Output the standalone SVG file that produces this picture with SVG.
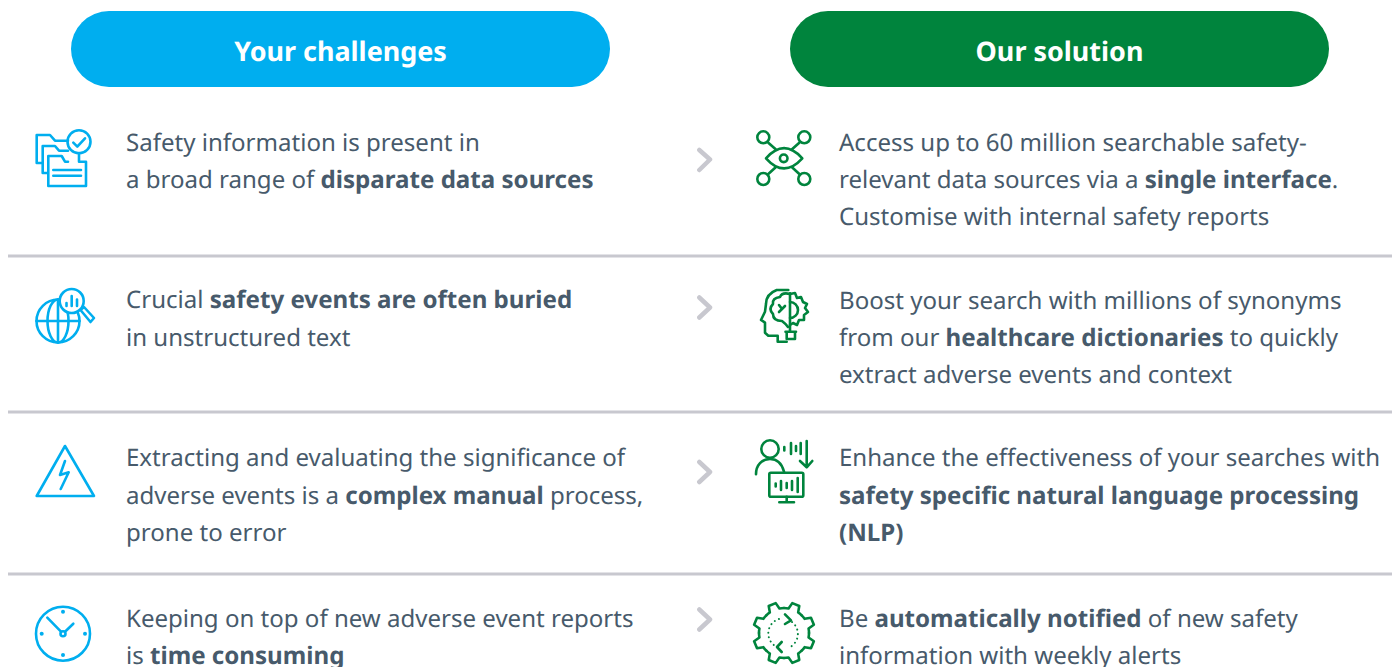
<svg xmlns="http://www.w3.org/2000/svg" xmlns:xlink="http://www.w3.org/1999/xlink" width="1399" height="667" viewBox="0 0 1399 667">
<style>
text{font-family:"Noto Sans","Open Sans",sans-serif;font-size:24.050px;fill:#475a6b;text-rendering:geometricPrecision}
.b{font-weight:700;font-size:24.120px}
.h{font-size:26.950px;font-weight:700;fill:#fff;text-anchor:middle}
.div{stroke:#c8c8cf;stroke-width:3;fill:none}
.chev{stroke:#c8c8cf;stroke-width:4.500;fill:none;stroke-linecap:round;stroke-linejoin:round}
.ib{stroke:#00aeef;stroke-width:2.600;fill:none;stroke-linecap:round;stroke-linejoin:round}
.ig{stroke:#00843d;stroke-width:2.600;fill:none;stroke-linecap:round;stroke-linejoin:round}
</style>
<defs><path id="seg" d="M-9.570,-23.100A25 25 0 0 1 -5.200,-24.450L-3.780,-30.770L3.780,-30.770L5.200,-24.450A25 25 0 0 1 9.570,-23.100"/></defs>
<rect width="1399" height="667" fill="#fff"/>
<g id="header-challenges"><rect x="71" y="11" width="539" height="76" rx="38" fill="#00aeef"/><text class="h" x="340.500" y="61">Your challenges</text></g>
<g id="header-solution"><rect x="790" y="11" width="539" height="76" rx="38" fill="#00843d"/><text class="h" x="1059.500" y="61">Our solution</text></g>
<g id="connectors">
<path class="div" d="M8 256H1392M8 412H1392M8 574H1392"/>
<path class="chev" d="M699.300 150L710 159.500L699.300 170M699.300 297.500L710 307.500L699.300 317.500M699.300 462L710 472L699.300 482M699.300 609.500L710 619.500L699.300 629.500"/>
</g>
<g id="c1"><g class="ib">
<path d="M41.700 163H36.700V135H50L55 140.700H68"/><path d="M47.300 173H42.700V146H55L59 150.700H68"/><path d="M79 153V161.700M68 161.700H65L61.700 156H48.300V186H86V161.700H79"/><path d="M53.300 170H81M53.300 175.700H81"/><circle cx="79" cy="141.700" r="11.500"/><path d="M73.300 142.700L77.300 146.700L85 138.300"/></g>
<text x="126" y="151">Safety information is present in</text><text x="126" y="188">a broad range of <tspan class="b">disparate data sources</tspan></text></g>
<g id="s1"><g class="ig"><circle cx="763.300" cy="137.300" r="6"/><circle cx="804.300" cy="137.300" r="6"/><circle cx="763.300" cy="179" r="6"/><circle cx="804.300" cy="179" r="6"/><path d="M766 158.300Q784 138 802.300 158.300Q784 178.500 766 158.300Z"/><circle cx="783.700" cy="158.300" r="3.800"/><path d="M768.300 142.700L775.700 149.300M799.300 142.700L792 149.300M768.300 174L775.700 167.300M799.300 174L792 167.300"/></g>
<text x="839" y="151">Access up to 60 million searchable safety-</text><text x="839" y="188">relevant data sources via a <tspan class="b">single interface</tspan>.</text><text x="839" y="225">Customise with internal safety reports</text></g>
<g id="c2"><g class="ib"><circle cx="58" cy="321" r="21.500"/><ellipse cx="58" cy="321" rx="10.500" ry="21.500"/><path d="M58 299.500V342.500M36.500 321H79.500"/><circle cx="71.700" cy="301" r="12" fill="#fff"/><path d="M66.500 303V306M71.700 296V306M77 299.500V306"/><path d="M80.500 310L84 307L94 318L90.500 322Z"/></g>
<text x="126" y="308">Crucial <tspan class="b">safety events are often buried</tspan></text><text x="126" y="346">in unstructured text</text></g>
<g id="s2"><g class="ig"><path d="M788.300 290H776.700Q766 294 766 304L765 311.700L761 320L765 322.700V332.700L768.300 335.700H777.700V341.700H786.700"/><path d="M790 293.300V331"/><path d="M790 294Q782 292 780 297Q772 298 773 304Q768 309 773 314Q773 321 782 321Q786 324 788 327"/><path d="M779 305L782 309L785 306M782 309L779 312"/><path d="M790 302A8 8 0 0 1 790 318"/><path d="M790 294L795 293L797 298L801 297L803 302L807 304L805 308L808 312L804 315L804 320L799 320L797 325L793 323L790 325"/><path d="M786.700 331.700H795V339H786.700ZM785.500 331.700H796"/></g>
<text x="839" y="309">Boost your search with millions of synonyms</text><text x="839" y="346">from our <tspan class="b">healthcare dictionaries</tspan> to quickly</text><text x="839" y="383">extract adverse events and context</text></g>
<g id="c3"><g class="ib"><path d="M65 446L94 496H36.700Z"/><path d="M65 461L60 475L68.700 472.300L60.700 489"/></g>
<text x="126" y="466">Extracting and evaluating the significance of</text><text x="126" y="504">adverse events is a <tspan class="b">complex manual</tspan> process,</text><text x="126" y="541">prone to error</text></g>
<g id="s3"><g class="ig"><circle cx="770" cy="449" r="8.700"/><path d="M756 474.300C756 465 762 459 770 459C777 459 782 464 784 471.700"/><path d="M784.300 447V450.500M791 443V454M796 446V451M800.700 443V454M806.700 441V467.300M800 461L806.700 467.300L812.300 461"/><rect x="769.300" y="472.700" width="34" height="24" rx="1.500"/><path d="M786.700 496.700V502.300M779.300 502.300H794"/><path d="M775.700 483.500V486.500M781 481V490M786.700 483V488M792 481V490M797.700 478V492"/></g>
<text x="839" y="466">Enhance the effectiveness of your searches with</text><text x="839" y="504" class="b">safety specific natural language processing</text><text x="839" y="541" class="b">(NLP)</text></g>
<g id="c4"><g class="ib"><circle cx="63" cy="633.700" r="27"/><circle cx="63" cy="633.700" r="2.500"/><path d="M47.300 617.700L61 631.700M65 631.700L73.300 623.700"/><g fill="#00aeef" stroke="none"><circle cx="63" cy="611.700" r="2"/><circle cx="41.700" cy="633.700" r="2"/><circle cx="85" cy="633.700" r="2"/><circle cx="63" cy="655" r="2"/></g></g>
<text x="126" y="627">Keeping on top of new adverse event reports</text><text x="126" y="664">is <tspan class="b">time consuming</tspan></text></g>
<g id="s4"><g class="ig"><g transform="translate(784 633)"><use xlink:href="#seg" transform="rotate(22.500)"/><use xlink:href="#seg" transform="rotate(67.500)"/><use xlink:href="#seg" transform="rotate(112.500)"/><use xlink:href="#seg" transform="rotate(157.500)"/><use xlink:href="#seg" transform="rotate(202.500)"/><use xlink:href="#seg" transform="rotate(247.500)"/><use xlink:href="#seg" transform="rotate(292.500)"/><use xlink:href="#seg" transform="rotate(337.500)"/></g>
<path d="M785 614.300L791 620.300L785 624M781.700 642L777 647L781.700 652"/>
<path d="M779 619A15 15 0 0 0 780 648M792 622A15 15 0 0 1 788 648" stroke-dasharray="0.100 4.500" stroke-width="2"/></g>
<text x="839" y="627">Be <tspan class="b">automatically notified</tspan> of new safety</text><text x="839" y="664">information with weekly alerts</text></g>
</svg>
